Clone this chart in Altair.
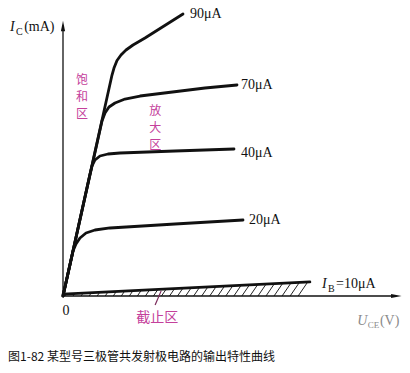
import altair as alt
import pandas as pd
import numpy as np

# ---- data (units: x ~ U_CE, y ~ I_C) ----
ib10_x = [0.0, 7.37]
ib10_y = [0.07, 0.52]

ib20_x = [0.0, 0.299, 0.388, 0.507, 0.687, 0.955, 1.403, 3.343, 5.373]
ib20_y = [0.0, 1.667, 1.926, 2.148, 2.333, 2.444, 2.519, 2.667, 2.815]

ib40_x = [0.0, 0.806, 0.866, 0.955, 1.104, 1.343, 1.701, 3.343, 5.104]
ib40_y = [0.0, 4.519, 4.815, 5.037, 5.185, 5.259, 5.296, 5.370, 5.444]

ib70_x = [0.0, 1.164, 1.254, 1.373, 1.552, 1.851, 2.299, 4.239, 5.194]
ib70_y = [0.0, 6.481, 6.778, 7.000, 7.148, 7.296, 7.407, 7.704, 7.815]

ib90_x = [0.0, 1.463, 1.522, 1.612, 1.731, 1.881, 2.090, 2.448, 3.582]
ib90_y = [0.0, 8.185, 8.444, 8.722, 8.926, 9.111, 9.296, 9.556, 10.444]

curve_names = ["10", "20", "40", "70", "90"]
curve_labels = ["20μA", "40μA", "70μA", "90μA"]

MAGENTA = "#c4409b"

rows = []
for name, xs, ys in zip(curve_names,
                        [ib10_x, ib20_x, ib40_x, ib70_x, ib90_x],
                        [ib10_y, ib20_y, ib40_y, ib70_y, ib90_y]):
    for i, (a, b) in enumerate(zip(xs, ys)):
        rows.append({"curve": name, "order": i, "x": a, "y": b})
curves_df = pd.DataFrame(rows)

XD = [-1.8806, 10.3582]
YD = [-2.8519, 10.963]
xs_ = alt.Scale(domain=XD, nice=False, zero=False)
ys_ = alt.Scale(domain=YD, nice=False, zero=False)
X = lambda f: alt.X(f, type="quantitative", scale=xs_, axis=None)
Y = lambda f: alt.Y(f, type="quantitative", scale=ys_, axis=None)

# hatching under the 10 µA line (cut-off region)
hx = np.arange(0.06, 7.2, 0.24)
top = ib10_y[0] + (ib10_y[1] - ib10_y[0]) * (hx / ib10_x[1])
hatch_df = pd.DataFrame({"x": hx, "y": 0.0, "x2": hx + top * 0.55, "y2": top})
hatch = alt.Chart(hatch_df).mark_rule(color="#222", strokeWidth=1.0).encode(
    x=X("x"), y=Y("y"), x2="x2", y2="y2")

axes_df = pd.DataFrame({"x": [0.0, 0.0], "y": [0.0, 0.0], "x2": [9.95, 0.0], "y2": [0.0, 10.0]})
axes = alt.Chart(axes_df).mark_rule(color="#111", strokeWidth=1.3).encode(
    x=X("x"), y=Y("y"), x2="x2", y2="y2")

arrow_up = alt.Chart(pd.DataFrame({"x": [0.0], "y": [10.0]})).mark_point(
    shape="M0,-1L0.4,1L-0.4,1Z", filled=True, color="#111", size=110, opacity=1).encode(x=X("x"), y=Y("y"))
arrow_right = alt.Chart(pd.DataFrame({"x": [9.95], "y": [0.0]})).mark_point(
    shape="M1,0L-1,0.4L-1,-0.4Z", filled=True, color="#111", size=110, opacity=1).encode(x=X("x"), y=Y("y"))

lines = alt.Chart(curves_df).mark_line(color="#111", strokeWidth=2.8, interpolate="linear",
                                       strokeCap="round", strokeJoin="round").encode(
    x=X("x"), y=Y("y"), detail="curve:N", order="order:Q")

leader = alt.Chart(pd.DataFrame({"x": [2.75], "y": [-0.33], "x2": [2.93], "y2": [0.19]})).mark_rule(
    color="#7a2a5a", strokeWidth=1.2).encode(x=X("x"), y=Y("y"), x2="x2", y2="y2")

def txt(df, **kw):
    base = dict(font="Liberation Serif", fontSize=14, color="#111", align="left", baseline="middle")
    base.update(kw)
    return alt.Chart(pd.DataFrame(df)).mark_text(**base).encode(x=X("x"), y=Y("y"), text="t:N")

curve_text = txt({"x": [5.55, 5.31, 5.31, 3.79], "y": [2.81, 5.30, 7.81, 10.44], "t": curve_labels})
ib_i = txt({"x": [7.73], "y": [0.44], "t": ["I"]}, fontStyle="italic")
ib_sub = txt({"x": [7.91], "y": [0.26], "t": ["B"]}, fontSize=10)
ib_rest = txt({"x": [8.15], "y": [0.44], "t": ["=10μA"]})
ic_i = txt({"x": [-1.58], "y": [9.96], "t": ["I"]}, fontStyle="italic")
ic_sub = txt({"x": [-1.40], "y": [9.78], "t": ["C"]}, fontSize=10)
ic_rest = txt({"x": [-1.16], "y": [9.96], "t": ["(mA)"]})
u_i = txt({"x": [8.78], "y": [-0.93], "t": ["U"]}, fontStyle="italic", color="#8a8a8a")
u_sub = txt({"x": [9.10], "y": [-1.07], "t": ["CE"]}, fontSize=9, color="#8a8a8a")
u_rest = txt({"x": [9.46], "y": [-0.93], "t": ["(V)"]}, color="#8a8a8a")
zero = txt({"x": [0.09], "y": [-0.56], "t": ["0"]}, align="center")

cjk = dict(font="Noto Sans CJK SC", fontSize=12, color=MAGENTA, align="center",
           lineBreak="\n", lineHeight=17)
sat = txt({"x": [0.57], "y": [8.0], "t": ["饱\n和\n区"]}, **cjk)
amp = txt({"x": [2.75], "y": [6.85], "t": ["放\n大\n区"]}, **cjk)
cut = txt({"x": [2.81], "y": [-0.81], "t": ["截止区"]}, font="Noto Sans CJK SC", fontSize=14,
          color=MAGENTA, align="center")
caption = txt({"x": [-1.64], "y": [-2.26], "t": ["图1-82 某型号三极管共发射极电路的输出特性曲线"]},
              font="Noto Sans CJK SC", fontSize=12, color="#111")

chart = alt.layer(hatch, axes, arrow_up, arrow_right, lines, leader, curve_text,
                  ib_i, ib_sub, ib_rest, ic_i, ic_sub, ic_rest, u_i, u_sub, u_rest, zero,
                  sat, amp, cut, caption).properties(
    width=410, height=373, padding=0, autosize=alt.AutoSizeParams(type="none"),
    background="white"
).configure_view(stroke=None)

chart.save("out.html", embed_options={"renderer": "svg", "actions": False})
